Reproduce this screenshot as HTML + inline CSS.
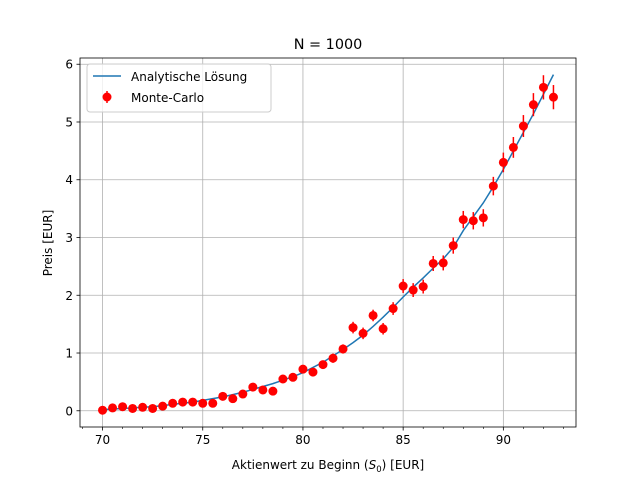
<!DOCTYPE html>
<html><head><meta charset="utf-8"><style>
body{margin:0;background:#fff}
svg{font-family:"DejaVu Sans","Liberation Sans",sans-serif}
</style></head><body>
<svg id="chart" width="640" height="480" xmlns="http://www.w3.org/2000/svg">
<rect width="640" height="480" fill="#fff"/>
<g id="grid"></g><g id="curve"></g><g id="points"></g><g id="axes"></g>
<text x="328" y="49" text-anchor="middle" font-size="14.4">N = 1000</text>
<text x="328" y="469" text-anchor="middle" font-size="12">Aktienwert zu Beginn (<tspan font-style="italic">S</tspan><tspan font-size="8.5" dy="3">0</tspan><tspan dy="-3">) [EUR]</tspan></text>
<text transform="translate(52,243) rotate(-90)" text-anchor="middle" font-size="12">Preis [EUR]</text>
<g>
<rect x="87" y="64" width="184" height="48" rx="3" fill="#fff" fill-opacity="0.8" stroke="#ccc"/>
<line x1="93" y1="76" x2="121" y2="76" stroke="#1f77b4" stroke-width="1.5"/>
<text x="131" y="81" font-size="12">Analytische Lösung</text>
<line x1="107" y1="91" x2="107" y2="103" stroke="red" stroke-width="1.5"/>
<circle cx="107" cy="97" r="4.5" fill="red"/>
<text x="131" y="102" font-size="12">Monte-Carlo</text>
</g>
</svg>
<script>
const xs=[70,70.5,71,71.5,72,72.5,73,73.5,74,74.5,75,75.5,76,76.5,77,77.5,78,78.5,79,79.5,80,80.5,81,81.5,82,82.5,83,83.5,84,84.5,85,85.5,86,86.5,87,87.5,88,88.5,89,89.5,90,90.5,91,91.5,92,92.5];
const mcValues=[0.01,0.05,0.07,0.04,0.06,0.04,0.08,0.13,0.15,0.15,0.13,0.13,0.25,0.21,0.29,0.41,0.36,0.34,0.55,0.58,0.72,0.67,0.80,0.91,1.07,1.44,1.34,1.65,1.42,1.77,2.16,2.09,2.15,2.55,2.56,2.86,3.31,3.29,3.34,3.89,4.30,4.56,4.93,5.30,5.60,5.43];
const mcErrors=[0.01,0.02,0.02,0.02,0.02,0.02,0.03,0.03,0.03,0.03,0.03,0.03,0.04,0.04,0.05,0.05,0.05,0.05,0.06,0.06,0.07,0.07,0.07,0.08,0.08,0.1,0.1,0.1,0.1,0.11,0.12,0.12,0.12,0.13,0.13,0.14,0.15,0.15,0.15,0.16,0.17,0.18,0.19,0.2,0.21,0.21];
const analytic=[0.02,0.03,0.04,0.05,0.06,0.07,0.09,0.11,0.13,0.15,0.18,0.21,0.24,0.28,0.32,0.37,0.42,0.47,0.53,0.59,0.66,0.75,0.84,0.95,1.06,1.18,1.31,1.46,1.62,1.79,1.97,2.14,2.3,2.47,2.63,2.83,3.12,3.36,3.6,3.88,4.18,4.5,4.82,5.14,5.48,5.82];
const xTicks=[70,75,80,85,90];
const yTicks=[0,1,2,3,4,5,6];
const L=80,R=576,T=58,B=427,x0=68.875,x1=93.625,y0=-0.281,y1=6.108;
const X=v=>L+(v-x0)/(x1-x0)*(R-L), Y=v=>B-(v-y0)/(y1-y0)*(B-T);
const NS="http://www.w3.org/2000/svg";
function mk(p,t,a){const e=document.createElementNS(NS,t);for(const k in a)e.setAttribute(k,a[k]);p.appendChild(e);return e;}
const g=document.getElementById('grid'),ax=document.getElementById('axes'),cv=document.getElementById('curve'),pt=document.getElementById('points');
xTicks.forEach(v=>{const x=X(v);
 const l=mk(g,'line',{x1:x,x2:x,y1:T,y2:B,stroke:'#b0b0b0','stroke-width':0.8});
 
 
 mk(ax,'line',{x1:x,x2:x,y1:B,y2:B+3.5,stroke:'#000','stroke-width':0.8});
 const t=mk(ax,'text',{x:x,y:B+17,'text-anchor':'middle','font-size':12});t.textContent=v;
 
 });
for(let v=69;v<=93;v++){if(v%5)mk(ax,'line',{x1:X(v),x2:X(v),y1:B,y2:B+2,stroke:'#000','stroke-width':0.6});}
yTicks.forEach(v=>{const y=Y(v);
 const l=mk(g,'line',{x1:L,x2:R,y1:y,y2:y,stroke:'#b0b0b0','stroke-width':0.8});
 
 
 mk(ax,'line',{x1:L-3.5,x2:L,y1:y,y2:y,stroke:'#000','stroke-width':0.8});
 const t=mk(ax,'text',{x:L-7,y:y+4.5,'text-anchor':'end','font-size':12});t.textContent=v;
 
 });
const fr=mk(ax,'rect',{x:L,y:T,width:R-L,height:B-T,fill:'none',stroke:'#000','stroke-width':0.8});


const path=mk(cv,'polyline',{points:xs.map((x,i)=>X(x)+','+Y(analytic[i])).join(' '),fill:'none',stroke:'#1f77b4','stroke-width':1.5});


xs.forEach((x,i)=>{const cx=X(x),v=mcValues[i],e=mcErrors[i];
 const eb=mk(pt,'line',{x1:cx,x2:cx,y1:Y(v-e),y2:Y(v+e),stroke:'red','stroke-width':1.5});
 
 
 const c=mk(pt,'circle',{cx:cx,cy:Y(v),r:4.5,fill:'red'});
 
 });
</script>
</body></html>
